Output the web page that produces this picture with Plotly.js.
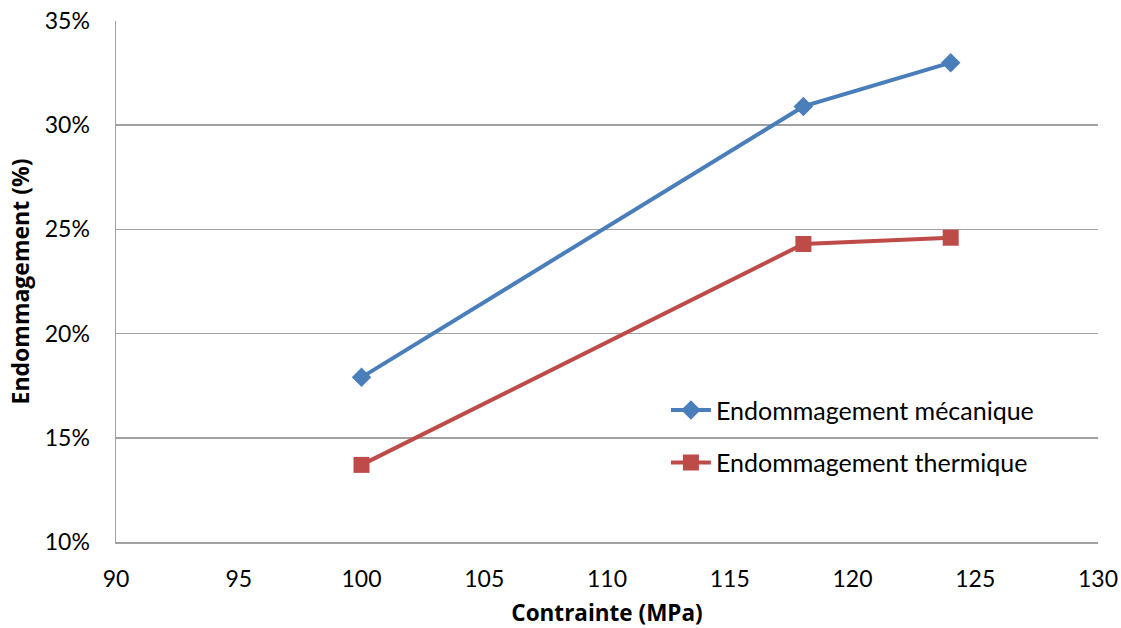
<!DOCTYPE html>
<html>
<head>
<meta charset="utf-8">
<script src="https://cdn.plot.ly/plotly-3.0.1.min.js"></script>
<style>html,body{margin:0;padding:0;background:#fff}#chart{width:1121px;height:628px}</style>
</head>
<body>
<div id="chart"></div>
<script>
const contrainte = [100, 118, 124];
const mecanique = [0.179, 0.309, 0.330];
const thermique = [0.137, 0.243, 0.246];
const seriesNames = ["Endommagement mécanique", "Endommagement thermique"];
const xTicks = [90, 95, 100, 105, 110, 115, 120, 125, 130];
const yTicks = [0.10, 0.15, 0.20, 0.25, 0.30, 0.35];

const font = "Lato, 'Liberation Sans', sans-serif";
const titleFont = "'Open Sans', Lato, sans-serif";

const traces = [
  {x: contrainte, y: mecanique, name: seriesNames[0], legendgroup: 'a', type: 'scatter', mode: 'lines+markers',
   line: {color: '#4A7EBB', width: 4}, marker: {symbol: 'diamond', size: 15, color: '#4A7EBB'}},
  {x: contrainte, y: thermique, name: seriesNames[1], legendgroup: 'b', type: 'scatter', mode: 'lines+markers',
   line: {color: '#BE4B48', width: 4}, marker: {symbol: 'square', size: 16, color: '#BE4B48'}}
];

const layout = {
  width: 1121, height: 628,
  margin: {l: 116, r: 23, t: 21, b: 86},
  paper_bgcolor: '#fff', plot_bgcolor: '#fff',
  font: {family: font, size: 23, color: '#000'},
  showlegend: true,
  legend: {x: 0.56, y: 0.297, xanchor: 'left', yanchor: 'top', bgcolor: 'rgba(0,0,0,0)',
           traceorder: 'grouped', tracegroupgap: 17,
           font: {family: font, size: 25, color: '#000'}, itemwidth: 40},
  xaxis: {range: [90, 130], tickvals: xTicks, ticktext: xTicks.map(String),
          showgrid: false, zeroline: false, showline: true, linecolor: '#A0A0A0', linewidth: 1.5,
          ticks: '', ticklen: 0, ticklabelstandoff: 16,
          title: {text: '<b>Contrainte (MPa)</b>', font: {family: titleFont, size: 22.5}, standoff: 17},
          tickfont: {family: font, size: 23}},
  yaxis: {range: [0.10, 0.35], tickvals: yTicks, ticktext: yTicks.map(v => Math.round(v*100) + '%'),
          showgrid: true, gridcolor: '#A0A0A0', gridwidth: 1.5, zeroline: false,
          showline: true, linecolor: '#A0A0A0', linewidth: 1.5, ticks: '', ticklabelstandoff: 20,
          title: {text: '<b>Endommagement (%)</b>', font: {family: titleFont, size: 23}, standoff: 8},
          tickfont: {family: font, size: 23}}
};

Plotly.newPlot('chart', traces, layout, {displayModeBar: false, staticPlot: true});
</script>
</body>
</html>
